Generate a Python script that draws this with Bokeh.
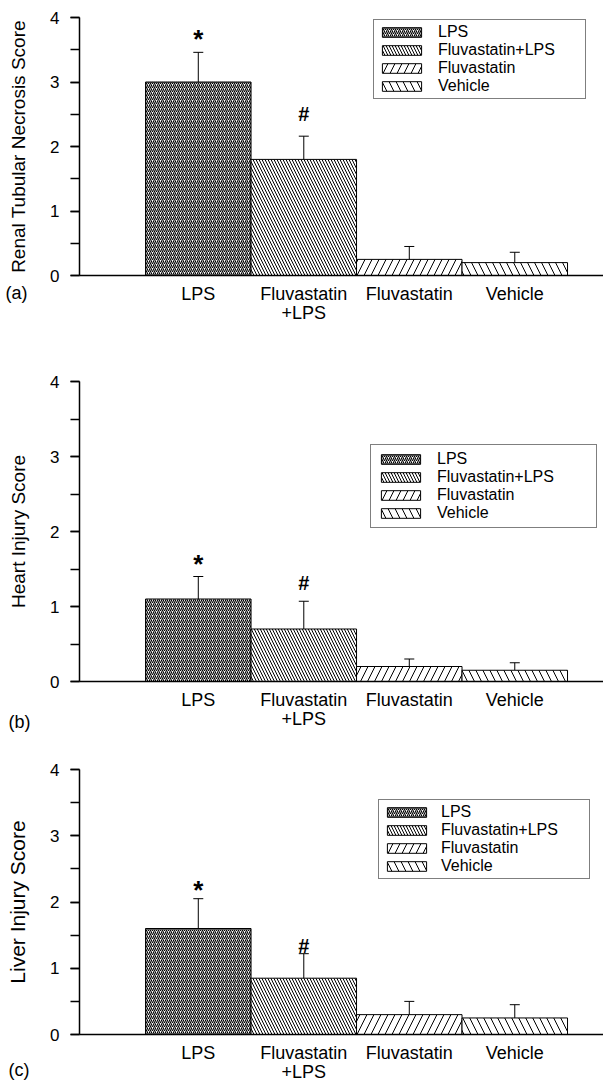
from bokeh.plotting import figure
from bokeh.layouts import column
from bokeh.models import (ColumnDataSource, FixedTicker, SingleIntervalTicker, Whisker,
                          TeeHead, Legend, LegendItem, Title, Range1d)
from bokeh.core.properties import value
from bokeh.embed import file_html
from bokeh.resources import INLINE

# ---------------- data ----------------
groups = ["LPS", "Fluvastatin+LPS", "Fluvastatin", "Vehicle"]
tick_labels = ["LPS", "Fluvastatin\n+LPS", "Fluvastatin", "Vehicle"]
marks = ["*", "#", "", ""]

renal_mean = [3.0, 1.8, 0.25, 0.2]
renal_sd = [0.46, 0.36, 0.2, 0.16]
renal_mark_y = [3.67, 2.50, None, None]

heart_mean = [1.1, 0.7, 0.2, 0.15]
heart_sd = [0.3, 0.37, 0.1, 0.1]
heart_mark_y = [1.57, 1.31, None, None]

liver_mean = [1.6, 0.85, 0.3, 0.25]
liver_sd = [0.45, 0.37, 0.2, 0.2]
liver_mark_y = [2.18, 1.33, None, None]

# ---------------- styles ----------------
FONT = "Liberation Sans"
HATCH = {"LPS": ("/", 4, 1.15), "Fluvastatin+LPS": ("\\", 6, 1), "Fluvastatin": ("/", 14, 1), "Vehicle": ("\\", 14, 1)}
MARK_SIZE = {"*": "26px", "#": "20px"}
X_START, X_END = -0.126, 4.841


def make_panel(mean, sd, mark_y, ylabel, ylabel_size, letter, height, top, bottom, leg_loc,
               leg_label_w, leg_pad, leg_standoff, letter_offset, letter_standoff):
    xs = list(range(1, len(groups) + 1))
    upper = [m + s for m, s in zip(mean, sd)]
    src = ColumnDataSource(dict(x=xs, top=mean, upper=upper, group=groups,
                                pattern=[HATCH[g][0] for g in groups],
                                scale=[HATCH[g][1] for g in groups],
                                weight=[HATCH[g][2] for g in groups]))
    p = figure(width=603, height=height, x_range=Range1d(X_START, X_END), y_range=Range1d(0, 4),
               output_backend="svg", toolbar_location=None,
               min_border_left=79, min_border_right=0, min_border_top=top, min_border_bottom=bottom)
    p.outline_line_color = None
    p.grid.visible = False
    r = p.vbar(x="x", top="top", width=1.0, source=src, fill_color="white",
               line_color="black", line_width=1, hatch_pattern="pattern", hatch_scale="scale",
               hatch_weight="weight", hatch_color="black")
    w = Whisker(base="x", lower="top", upper="upper", source=src, dimension="height",
                line_color="black", line_width=1,
                upper_head=TeeHead(size=10, line_color="black", line_width=1), lower_head=None)
    p.add_layout(w)

    for sym, size in MARK_SIZE.items():
        idx = [i for i, m in enumerate(marks) if m == sym]
        ms = ColumnDataSource(dict(x=[xs[i] for i in idx], y=[mark_y[i] for i in idx],
                                   t=[marks[i] for i in idx]))
        p.text(x="x", y="y", text="t", source=ms, text_font=value(FONT), text_font_size=size,
               text_font_style="bold", text_align="center", text_baseline="middle",
               text_color="black")

    ya = p.yaxis[0]
    ya.ticker = SingleIntervalTicker(interval=1, num_minor_ticks=2)
    ya.axis_line_width = 1.5
    ya.major_tick_in = 0
    ya.major_tick_out = 9
    ya.minor_tick_in = 0
    ya.minor_tick_out = 9
    ya.major_tick_line_width = 1.5
    ya.minor_tick_line_width = 1.5
    ya.major_label_text_font = FONT
    ya.major_label_text_font_size = "17px"
    ya.major_label_text_color = "black"
    ya.major_label_standoff = 11
    ya.axis_label = ylabel
    ya.axis_label_text_font = FONT
    ya.axis_label_text_font_size = ylabel_size
    ya.axis_label_text_font_style = "normal"
    ya.axis_label_text_color = "black"
    ya.axis_label_standoff = 18

    xa = p.xaxis[0]
    xa.ticker = FixedTicker(ticks=xs)
    xa.major_label_overrides = {x: lab for x, lab in zip(xs, tick_labels)}
    xa.axis_line_width = 1.5
    xa.major_tick_line_color = None
    xa.minor_tick_line_color = None
    xa.major_label_text_font = FONT
    xa.major_label_text_font_size = "18px"
    xa.major_label_text_color = "black"
    xa.major_label_text_line_height = 0.95
    xa.major_label_standoff = 2

    legend = Legend(items=[LegendItem(label=g, renderers=[r], index=i) for i, g in enumerate(groups)],
                    location=leg_loc, orientation="vertical",
                    border_line_color="black", border_line_width=1,
                    background_fill_color="white", background_fill_alpha=1,
                    glyph_width=49, glyph_height=12, label_standoff=leg_standoff,
                    label_width=leg_label_w, label_height=10, padding=leg_pad,
                    spacing=0, margin=0,
                    label_text_font=FONT, label_text_font_size="16px",
                    label_text_color="black", label_text_baseline="middle")
    p.add_layout(legend)

    p.add_layout(Title(text=letter, align="left", vertical_align="top", offset=letter_offset,
                       standoff=letter_standoff, text_font=FONT, text_font_size="18px",
                       text_font_style="normal", text_color="black"), "below")
    return p


pa = make_panel(renal_mean, renal_sd, renal_mark_y, "Renal Tubular Necrosis Score", "19px", "(a)",
                371, 17, 96, (294, 176), 144, 3, 12, -74, -86)
pb = make_panel(heart_mean, heart_sd, heart_mark_y, "Heart Injury Score", "19px", "(b)",
                388, 10, 78, (291, 153), 154, 5, 12, -71, -40)
pc = make_panel(liver_mean, liver_sd, liver_mark_y, "Liver Injury Score", "21px", "(c)",
                325, 10, 45, (299, 155), 145, 3, 10, -71, -50)

layout = column(pa, pb, pc, spacing=0)
open("out.html", "w").write(file_html(layout, INLINE))
